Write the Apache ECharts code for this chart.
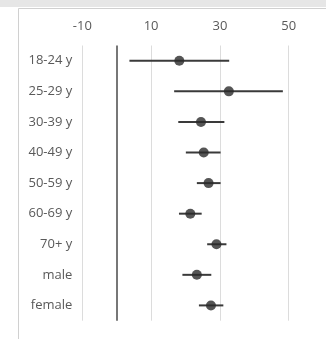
<!DOCTYPE html>
<html>
<head>
<meta charset="utf-8">
<script src="https://cdn.jsdelivr.net/npm/echarts@6/dist/echarts.min.js"></script>
<style>html,body{margin:0;padding:0;background:#fff;}#c{width:326px;height:339px;}</style>
</head>
<body>
<div id="c"></div>
<script>
var categories = ['18-24 y','25-29 y','30-39 y','40-49 y','50-59 y','60-69 y','70+ y','male','female'];
var estimate = [18.2, 32.6, 24.5, 25.3, 26.7, 21.4, 29.0, 23.3, 27.4];
var lower = [3.7, 16.7, 17.9, 20.1, 23.3, 18.1, 26.3, 19.1, 23.9];
var upper = [32.7, 48.3, 31.3, 30.2, 30.2, 24.7, 31.9, 27.5, 31.0];
var xTicks = [-10, 10, 30, 50];

var chart = echarts.init(document.getElementById('c'));
var font = 'Open Sans, Liberation Sans, sans-serif';
chart.setOption({
  animation: false,
  backgroundColor: '#fff',
  graphic: [
    {type:'rect', shape:{x:0,y:0,width:326,height:7}, style:{fill:'#e6e6e6'}, silent:true},
    {type:'rect', shape:{x:18.5,y:8.5,width:400,height:400}, style:{fill:'none', stroke:'#d0d0d0', lineWidth:1}, silent:true}
  ],
  grid: {left: 82.3, right: 37.3, top: 45.5, bottom: 18.3},
  xAxis: {
    type: 'value', position: 'top', min: -10, max: 50, interval: 20,
    axisLine: {show: false}, axisTick: {show: false},
    axisLabel: {color: '#595959', fontSize: 13, fontFamily: font, margin: 13},
    splitLine: {lineStyle: {color: '#dcdcdc', width: 1}}
  },
  yAxis: {
    type: 'category', data: categories, inverse: true,
    axisLine: {show: false}, axisTick: {show: false}, splitLine: {show: false},
    axisLabel: {color: '#595959', fontSize: 13, fontFamily: font, margin: 10}
  },
  series: [
    {
      type: 'custom',
      renderItem: function (params, api) {
        var y = api.value(0);
        var p1 = api.coord([api.value(1), y]);
        var p2 = api.coord([api.value(2), y]);
        return {type:'line', shape:{x1:p1[0], y1:p1[1], x2:p2[0], y2:p2[1]},
                style:{stroke:'#3a3a3a', lineWidth:2}};
      },
      encode: {x: [1, 2], y: 0},
      data: categories.map(function (c, i) { return [i, lower[i], upper[i]]; }),
      markLine: {
        silent: true, symbol: 'none', label: {show: false},
        lineStyle: {color: '#4a4a4a', width: 1.5, type: 'solid'},
        data: [{xAxis: 0}]
      },
      z: 2
    },
    {
      type: 'scatter',
      symbol: 'circle', symbolSize: 10,
      itemStyle: {color: '#2b2b2b'},
      data: categories.map(function (c, i) { return [estimate[i], i]; }),
      z: 3
    }
  ]
});
</script>
</body>
</html>
